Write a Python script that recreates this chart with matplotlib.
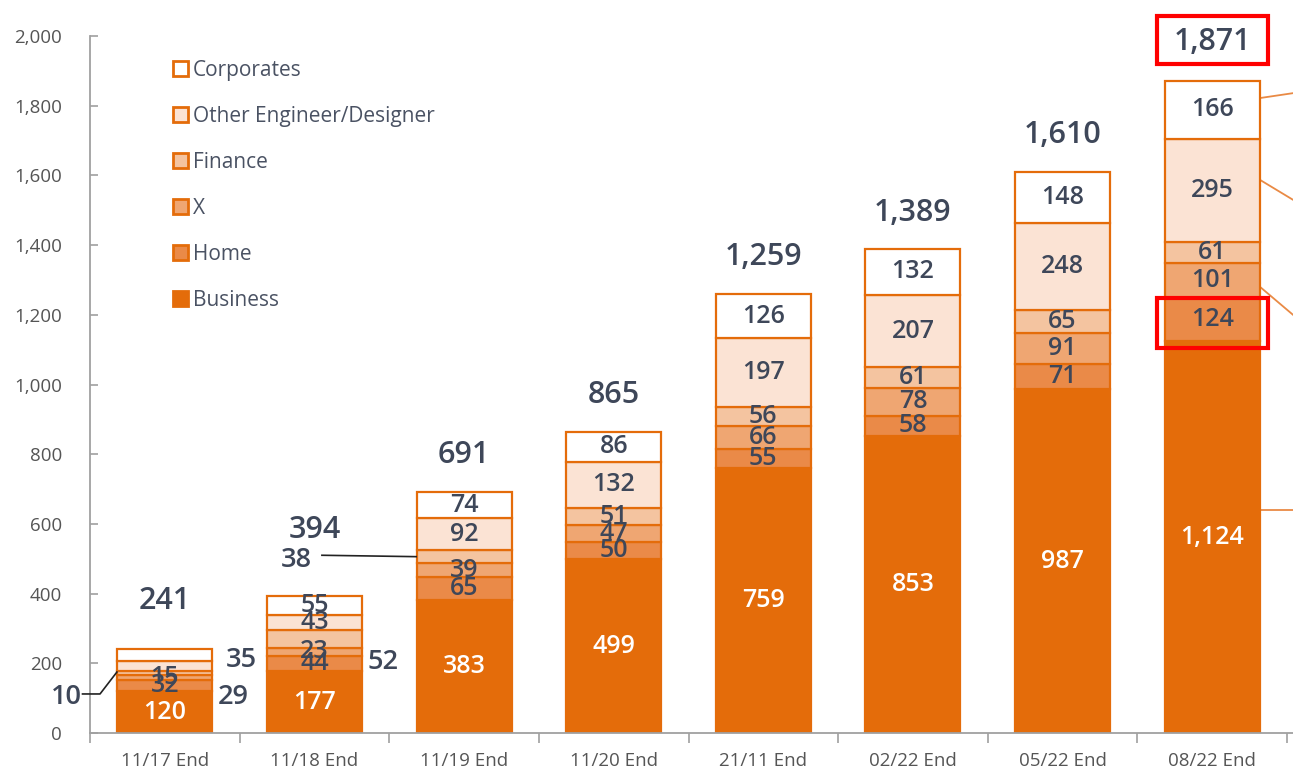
import matplotlib
matplotlib.use("Agg")
import matplotlib.pyplot as plt
from matplotlib.patches import Patch, Rectangle
import numpy as np

plt.rcParams['font.family'] = ['Open Sans', 'DejaVu Sans']

categories = ["11/17 End", "11/18 End", "11/19 End", "11/20 End",
              "21/11 End", "02/22 End", "05/22 End", "08/22 End"]
business = [120, 177, 383, 499, 759, 853, 987, 1124]
home = [32, 44, 65, 50, 55, 58, 71, 124]
x_seg = [15, 23, 39, 47, 66, 78, 91, 101]
finance = [10, 52, 38, 51, 56, 61, 65, 61]
other = [29, 43, 92, 132, 197, 207, 248, 295]
corporates = [35, 55, 74, 86, 126, 132, 148, 166]
totals = [241, 394, 691, 865, 1259, 1389, 1610, 1871]
total_labels = ["241", "394", "691", "865", "1,259", "1,389", "1,610", "1,871"]
yticks = [0, 200, 400, 600, 800, 1000, 1200, 1400, 1600, 1800, 2000]

series_names = ["Business", "Home", "X", "Finance", "Other Engineer/Designer", "Corporates"]
series_vals = [business, home, x_seg, finance, other, corporates]
colors = ["#E46C0A", "#EA8A48", "#EFA672", "#F4C4A0", "#FBE3D4", "#FFFFFF"]
edge = "#E46C0A"
txt = "#3E4759"

# segments labelled outside the bar: (bar index, series index)
outside = {(0, 3), (0, 4), (0, 5), (1, 3), (2, 3)}

fig = plt.figure(figsize=(12.93, 7.74), dpi=100)
ax = fig.add_axes([90/1293, 1-733/774, 1203/1293, (733-36)/774])

xs = np.arange(len(categories))
w = 0.635
bottom = np.zeros(len(categories))
for si, (name, vals) in enumerate(zip(series_names, series_vals)):
    vals = np.array(vals, dtype=float)
    ax.bar(xs, vals, w, bottom=bottom, color=colors[si], edgecolor=edge,
           linewidth=1.6, zorder=2)
    for i, v in enumerate(vals):
        if (i, si) in outside:
            continue
        c = "white" if si == 0 else txt
        yy = bottom[i] + v / 2
        lab = f"{int(v):,}"
        ax.text(xs[i], yy, lab, ha="center", va="center", fontsize=18,
                color=c, fontweight="semibold", zorder=4)
    bottom += vals

# totals
tot_off = [138, 188, 107, 105, 107, 103, 106, 112]
for i, t in enumerate(totals):
    ax.text(xs[i], t + tot_off[i], total_labels[i], ha="center", va="center",
            fontsize=22, color=txt, fontweight="semibold", zorder=4)

# outside labels
okw = dict(ha="center", va="center", fontsize=19.5, color=txt, fontweight="semibold")
ax.text(0.51, 209, str(corporates[0]), **okw)
ax.text(0.46, 103, str(other[0]), **okw)
ax.text(-0.66, 103, str(finance[0]), clip_on=False, **okw)
ax.plot([-0.55, -0.433, -0.32], [112, 112, 175], color="#222222", lw=1.2, clip_on=False, zorder=5)
ax.text(1.46, 204, str(finance[1]), **okw)
ax.text(0.88, 496, str(finance[2]), **okw)
ax.plot([1.05, 1.68], [510, 506], color="#222222", lw=1.2, zorder=5)

# leader lines to the right of last bar
for y0, y1 in [(1822, 1836), (1587, 1530), (1280, 1200), (640, 640)]:
    ax.plot([7.32, 7.6], [y0, y0 + (y1 - y0) * 0.28 / 0.22], color="#E98A45", lw=1.3,
            clip_on=False, zorder=1)

# red highlight boxes
ax.add_patch(Rectangle((7 - 0.37, 1920), 0.74, 138, fill=False, edgecolor="#FF0000",
                       lw=3, clip_on=False, zorder=6))
ax.add_patch(Rectangle((7 - 0.37, business[7] - 20), 0.74, home[7] + 20 + 1, fill=False,
                       edgecolor="#FF0000", lw=3, clip_on=False, zorder=6))

ax.set_xlim(-0.5, 7.54)
ax.set_ylim(0, 2000)
ax.set_yticks(yticks)
ax.set_yticklabels([f"{v:,}" for v in yticks])
ax.set_xticks(xs)
ax.set_xticklabels(categories)
ax.set_xticks(np.arange(-0.5, 7.6, 1.0), minor=True)
ax.tick_params(axis="x", which="major", length=0, pad=14, labelsize=13.5, labelcolor="#555555")
ax.tick_params(axis="x", which="minor", length=7, direction="out", color="#A0A0A0", width=1.2)
ax.tick_params(axis="y", length=6, direction="in", color="#A0A0A0", width=1.2,
               labelsize=13.5, labelcolor="#555555", pad=20)
for s in ["top", "right"]:
    ax.spines[s].set_visible(False)
for s in ["left", "bottom"]:
    ax.spines[s].set_color("#A0A0A0")
    ax.spines[s].set_linewidth(1.3)

handles = [Patch(facecolor=colors[i], edgecolor=edge, linewidth=2) for i in range(5, -1, -1)]
labels = [series_names[i] for i in range(5, -1, -1)]
leg = ax.legend(handles, labels, loc="upper left", bbox_to_anchor=(0.062, 0.978),
                frameon=False, fontsize=15, handlelength=0.7, handleheight=0.7,
                handletextpad=0.25, labelspacing=1.2, borderaxespad=0)
for t in leg.get_texts():
    t.set_color("#4A5263")

fig.savefig("out.png", dpi=100)
